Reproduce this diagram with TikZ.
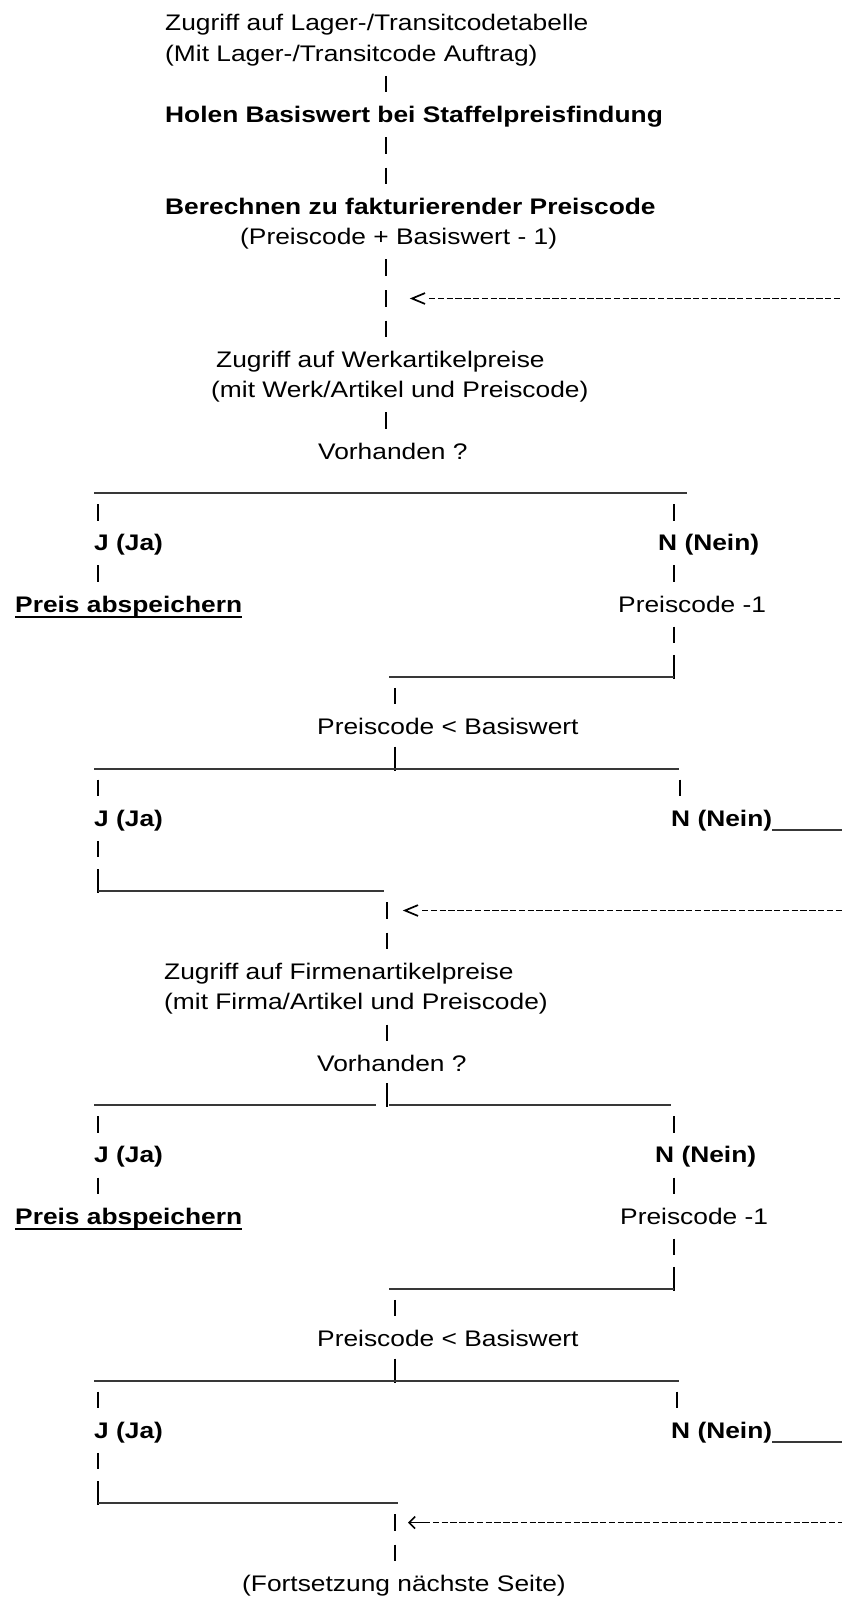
\documentclass[tikz,border=0pt]{standalone}
\usepackage{fontspec}
\setmainfont[FakeStretch=1.17]{Liberation Sans}
\usetikzlibrary{arrows.meta}

\begin{document}
\begin{tikzpicture}[x=1bp, y=-30.6bp,
		txt/.style={anchor=base west, inner sep=0pt, font=\fontsize{22.6pt}{27pt}\selectfont},
		fett/.style={txt, font=\fontsize{22.6pt}{27pt}\selectfont\bfseries},
		ibar/.style={line width=2.6bp},
		pipe/.style={line width=1.7bp},
		uline/.style={line width=1.8bp, black!78},
		dline/.style={line width=1.6bp, dash pattern=on 6.4bp off 2.4bp}]
		% eine Zeile = 30.6bp, Zeile k hat ihre Grundlinie bei y = k
		\useasboundingbox (0,0) rectangle (842,52.32);

		% Texte
		\node[txt]  (lager1)      at (165,1)  {Zugriff auf Lager-/Transitcodetabelle};
		\node[txt]  (lager2)      at (165,2)  {(Mit Lager-/Transitcode Auftrag)};
		\node[fett] (holen)       at (165,4)  {Holen Basiswert bei Staffelpreisfindung};
		\node[fett] (berechnen)   at (165,7)  {Berechnen zu fakturierender Preiscode};
		\node[txt]  (formel)      at (240,8)  {(Preiscode + Basiswert - 1)};
		\node[txt]  (werk1)       at (216,12) {Zugriff auf Werkartikelpreise};
		\node[txt]  (werk2)       at (211,13) {(mit Werk/Artikel und Preiscode)};
		\node[txt]  (vorh1)       at (318,15) {Vorhanden ?};
		\node[fett] (ja1)         at (94,18)  {J (Ja)};
		\node[fett] (nein1)       at (658,18) {N (Nein)};
		\node[fett] (speichern1)  at (15,20)  {Preis abspeichern};
		\node[txt]  (minus1)      at (618,20) {Preiscode -1};
		\node[txt]  (vergl1)      at (317,24) {Preiscode < Basiswert};
		\node[fett] (ja2)         at (94,27)  {J (Ja)};
		\node[fett] (nein2)       at (671,27) {N (Nein)};
		\node[txt]  (firma1)      at (164,32) {Zugriff auf Firmenartikelpreise};
		\node[txt]  (firma2)      at (164,33) {(mit Firma/Artikel und Preiscode)};
		\node[txt]  (vorh2)       at (317,35) {Vorhanden ?};
		\node[fett] (ja3)         at (94,38)  {J (Ja)};
		\node[fett] (nein3)       at (655,38) {N (Nein)};
		\node[fett] (speichern2)  at (15,40)  {Preis abspeichern};
		\node[txt]  (minus2)      at (620,40) {Preiscode -1};
		\node[txt]  (vergl2)      at (317,44) {Preiscode < Basiswert};
		\node[fett] (ja4)         at (94,47)  {J (Ja)};
		\node[fett] (nein4)       at (671,47) {N (Nein)};
		\node[txt]  (fortsetzung) at (242,52) {(Fortsetzung nächste Seite)};

		\foreach \n in {speichern1, speichern2}
			\draw[line width=2.4bp] ([yshift=-5bp]\n.base west) -- ([yshift=-5bp]\n.base east);

		% senkrechte Striche (I)
		\foreach \x/\k in {386/3, 386/5, 386/6, 386/9, 386/10, 386/11, 386/14,
			98/17, 674/17, 98/19, 674/19, 674/21, 395/23,
			98/26, 680/26, 98/28, 387/30, 387/31,
			387/34, 98/37, 674/37, 98/39, 674/39, 674/41, 395/43,
			98/46, 677/46, 98/48, 395/50, 395/51}
			\draw[ibar] (\x,\k-0.52) -- (\x,\k+0.02);

		% senkrechte Striche (|)
		\foreach \x/\k in {674/22, 395/25, 98/29, 387/36, 674/42, 395/45, 98/49}
			\draw[pipe] (\x,\k-0.6) -- (\x,\k+0.18);

		% Unterstriche
		\foreach \a/\b/\k in {94/687/16, 389/674/22, 94/679/25, 98/384/29,
			94/376/36, 389/671/36, 389/674/42, 94/679/45, 98/398/49}
			\draw[uline] (\a,\k+0.12) -- (\b,\k+0.12);

		\coordinate (rand2) at (842,27.13);
		\coordinate (rand4) at (842,47.13);
		\draw[uline] (nein2.base east |- rand2) -- (rand2);
		\draw[uline] (nein4.base east |- rand4) -- (rand4);

		% Rueckspruenge
		\coordinate (pfeil1) at (412,9.755);
		\coordinate (rand1)  at (842,9.755);
		\coordinate (pfeil2) at (405,29.755);
		\coordinate (rand3)  at (842,29.755);
		\coordinate (pfeil3) at (408,49.755);
		\coordinate (rand5)  at (842,49.755);

		\foreach \p/\r in {pfeil1/rand1, pfeil2/rand3} {
			\draw[line width=1.7bp] (\p) ++(13bp,5.4bp) -- (\p) -- ++(13bp,-5.4bp);
			\draw[dline] (\p) ++(17bp,0pt) -- (\r);
		}
		\draw[line width=1.6bp, {Straight Barb[length=6bp,width=12bp]}-] (pfeil3) -- ++(16bp,0pt);
		\draw[dline] (pfeil3) ++(16bp,0pt) -- (rand5);
	\end{tikzpicture}
\end{document}
